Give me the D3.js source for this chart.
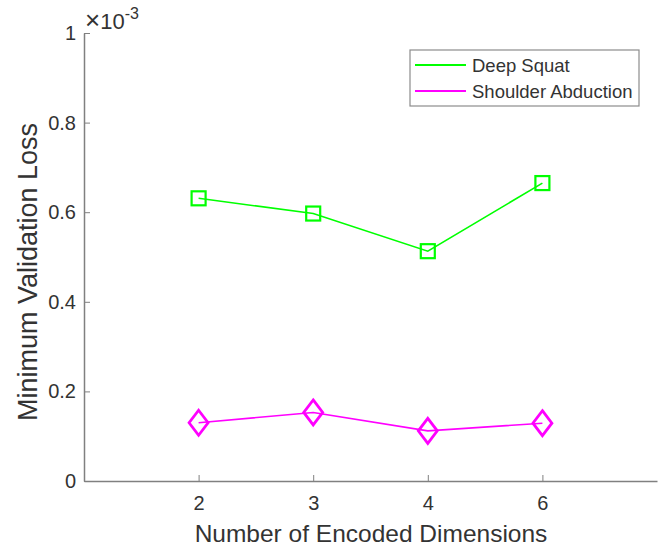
<!DOCTYPE html>
<html>
<head>
<meta charset="utf-8">
<script src="https://cdn.jsdelivr.net/npm/d3@7"></script>
<style>
  html, body { margin: 0; padding: 0; background: #fff; }
  svg { display: block; font-family: "Liberation Sans", Arial, sans-serif; }
</style>
</head>
<body>
<svg id="chart" width="671" height="551"></svg>
<script>
// Encoded dimension counts shown on the x axis
const dimensions = ["2", "3", "4", "6"];
// Minimum validation loss (×10^-3) for each exercise
const deepSquat = [0.631, 0.597, 0.513, 0.665];
const shoulderAbduction = [0.130, 0.153, 0.112, 0.129];
const yTicks = [0, 0.2, 0.4, 0.6, 0.8, 1];
const seriesNames = ["Deep Squat", "Shoulder Abduction"];
const seriesColors = ["#00ff00", "#ff00ff"];

const svg = d3.select("#chart");
const axisColor = "#808080";
const textColor = "#333333";

// Category i is drawn at position i+1 inside the [0, 5] range
const x = d3.scaleLinear().domain([0, dimensions.length + 1]).range([84, 657]);
const y = d3.scaleLinear().domain([0, 1]).range([481, 33]);

// Y axis (ticks pointing into the plot)
const yAxis = d3.axisLeft(y).tickValues(yTicks).tickSizeInner(-6).tickSizeOuter(0)
  .tickFormat(d => d === 0 || d === 1 ? d3.format("d")(d) : d3.format(".1f")(d)).tickPadding(8);
const gy = svg.append("g").attr("transform", `translate(${x(0)},0)`).call(yAxis);
gy.select(".domain").attr("stroke", axisColor).attr("stroke-width", 1.5);
gy.selectAll(".tick line").attr("stroke", axisColor).attr("stroke-width", 1);
gy.selectAll(".tick text").attr("fill", textColor).style("font-size", "20px")
  .attr("font-family", "Liberation Sans, Arial, sans-serif");

// X axis
const xAxis = d3.axisBottom(x).tickValues(dimensions.map((d, i) => i + 1))
  .tickFormat((d, i) => dimensions[i]).tickSizeInner(-6).tickSizeOuter(0).tickPadding(15);
const gx = svg.append("g").attr("transform", `translate(0,${y(0)})`).call(xAxis);
gx.select(".domain").attr("stroke", axisColor).attr("stroke-width", 1.5);
gx.selectAll(".tick line").attr("stroke", axisColor).attr("stroke-width", 1);
gx.selectAll(".tick text").attr("fill", textColor).style("font-size", "20px")
  .attr("font-family", "Liberation Sans, Arial, sans-serif");

// Exponent multiplier above the y axis
const expo = svg.append("text").attr("x", x(0) + 1).attr("y", 29)
  .attr("fill", textColor).style("font-size", "22px");
expo.append("tspan").style("font-size", "26px").text("×");
expo.append("tspan").text("10");
expo.append("tspan").attr("dy", -10).style("font-size", "16px").text("-3");

// Axis titles
svg.append("text").attr("x", 371).attr("y", 542)
  .attr("text-anchor", "middle").attr("fill", textColor).style("font-size", "24.5px")
  .text("Number of Encoded Dimensions");
svg.append("text").attr("transform", `translate(37,272) rotate(-90)`)
  .attr("text-anchor", "middle").attr("fill", textColor).style("font-size", "27px")
  .text("Minimum Validation Loss");

const line = d3.line().x((d, i) => x(i + 1)).y(d => y(d));

// Deep Squat: line with square markers
svg.append("path").datum(deepSquat).attr("d", line)
  .attr("fill", "none").attr("stroke", seriesColors[0]).attr("stroke-width", 1.6);
svg.append("g").selectAll("rect").data(deepSquat).join("rect")
  .attr("x", (d, i) => x(i + 1) - 7).attr("y", d => y(d) - 7)
  .attr("width", 14).attr("height", 14)
  .attr("fill", "none").attr("stroke", seriesColors[0]).attr("stroke-width", 2.2);

// Shoulder Abduction: line with diamond markers
svg.append("path").datum(shoulderAbduction).attr("d", line)
  .attr("fill", "none").attr("stroke", seriesColors[1]).attr("stroke-width", 1.6);
svg.append("g").selectAll("path").data(shoulderAbduction).join("path")
  .attr("d", (d, i) => {
    const cx = x(i + 1), cy = y(d);
    return `M${cx},${cy - 12.5}L${cx + 9.5},${cy}L${cx},${cy + 12.5}L${cx - 9.5},${cy}Z`;
  })
  .attr("fill", "none").attr("stroke", seriesColors[1]).attr("stroke-width", 2.8);

// Legend
const legend = svg.append("g");
legend.append("rect").attr("x", 410).attr("y", 50).attr("width", 229).attr("height", 56)
  .attr("fill", "#fff").attr("stroke", "#8c8c8c").attr("stroke-width", 1.2);
seriesNames.forEach((name, i) => {
  const ly = 65 + i * 26;
  legend.append("line").attr("x1", 415).attr("x2", 466).attr("y1", ly).attr("y2", ly)
    .attr("stroke", seriesColors[i]).attr("stroke-width", 1.8);
  legend.append("text").attr("x", 472).attr("y", ly + 7).attr("fill", textColor)
    .style("font-size", "18.5px").text(name);
});
</script>
</body>
</html>
